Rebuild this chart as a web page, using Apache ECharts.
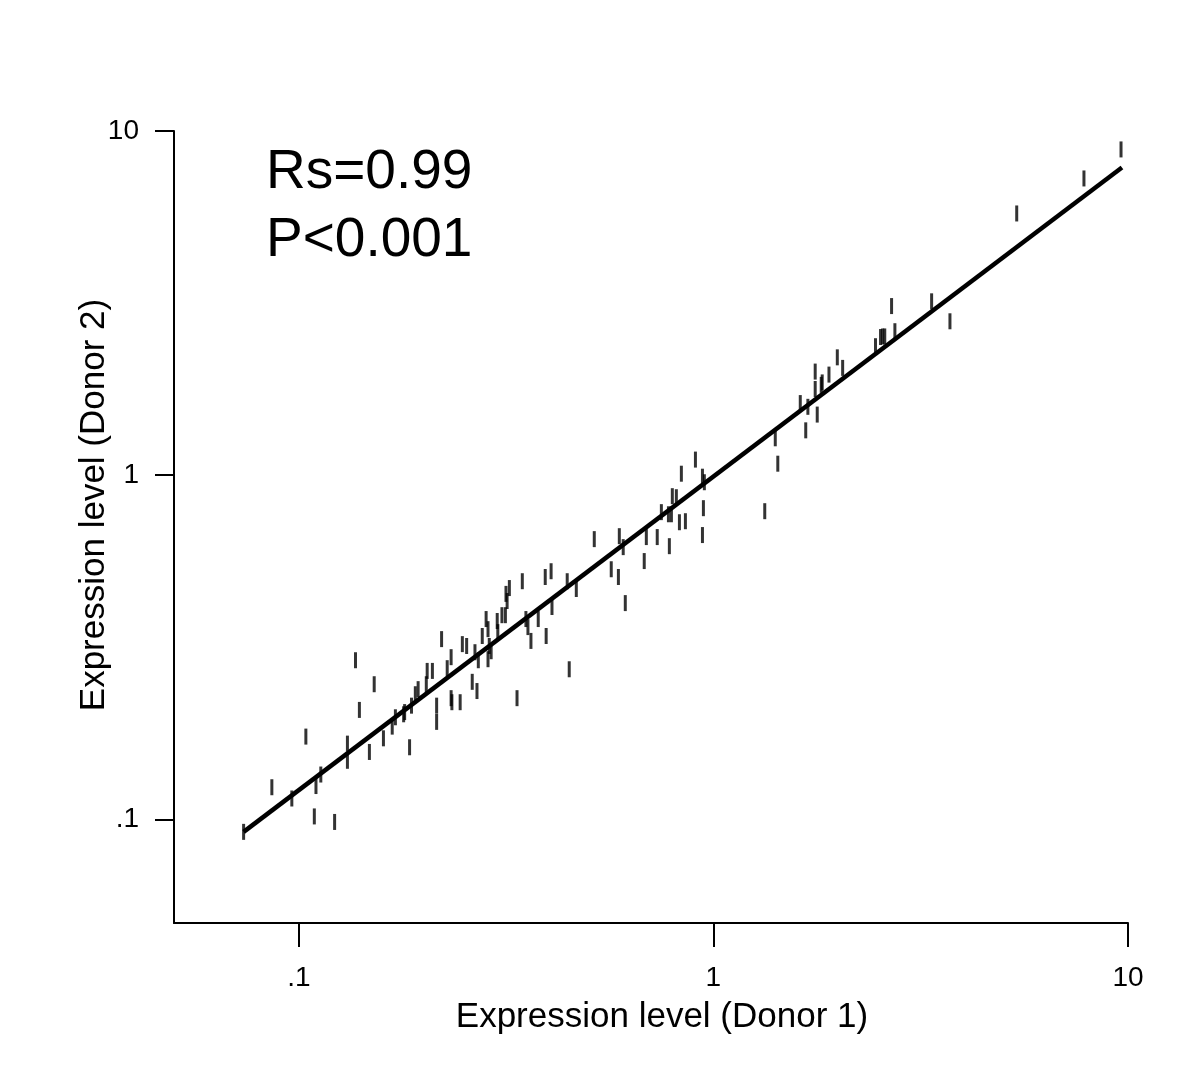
<!DOCTYPE html>
<html>
<head>
<meta charset="utf-8">
<script src="https://cdn.jsdelivr.net/npm/echarts@6/dist/echarts.min.js"></script>
<style>
  html, body { margin: 0; padding: 0; background: #fff; }
  #chart { width: 1200px; height: 1088px; }
</style>
</head>
<body>
<div id="chart"></div>
<script>
// expression level of each gene
const donor1 = [
  9.62, 7.83, 5.39, 3.72, 3.36, 2.69, 2.74, 2.59, 2.56, 2.53,
  2.46, 1.99, 2.05, 1.90, 1.83, 1.82, 1.76, 1.76, 1.62, 1.69,
  1.67, 1.78, 1.41, 1.43, 1.33, 0.905, 0.837, 0.941, 0.951, 0.796,
  0.814, 0.749, 0.779, 0.792, 0.828, 0.856, 0.946, 0.941, 0.516, 0.593,
  0.606, 0.689, 0.732, 0.783, 0.681, 0.567, 0.590, 0.613, 0.346, 0.393,
  0.406, 0.444, 0.467, 0.408, 0.378, 0.395, 0.363, 0.353, 0.357, 0.322,
  0.316, 0.318, 0.315, 0.309, 0.301, 0.283, 0.286, 0.277, 0.288, 0.291,
  0.302, 0.286, 0.266, 0.271, 0.221, 0.248, 0.254, 0.233, 0.228, 0.210,
  0.204, 0.203, 0.194, 0.191, 0.187, 0.180, 0.262, 0.269, 0.233, 0.234,
  0.245, 0.215, 0.336, 0.449, 0.137, 0.152, 0.140, 0.104, 0.171, 0.168,
  0.160, 0.148, 0.131, 0.131, 0.113, 0.110, 0.0962, 0.0861, 0.109, 0.122,
  0.0736, 0.185, 0.215, 0.179
]
const donor2 = [
  8.84, 7.28, 5.76, 2.80, 3.20, 3.10, 2.62, 2.53, 2.53, 2.52,
  2.37, 2.20, 2.05, 1.96, 1.86, 1.83, 2.00, 1.78, 1.62, 1.58,
  1.35, 1.50, 1.28, 1.08, 0.786, 1.11, 1.01, 0.99, 0.954, 0.869,
  0.863, 0.781, 0.770, 0.770, 0.730, 0.735, 0.802, 0.670, 0.652, 0.665,
  0.618, 0.661, 0.661, 0.622, 0.563, 0.533, 0.506, 0.425, 0.492, 0.506,
  0.526, 0.492, 0.467, 0.414, 0.382, 0.341, 0.330, 0.382, 0.362, 0.470,
  0.452, 0.431, 0.392, 0.392, 0.377, 0.382, 0.357, 0.341, 0.319, 0.308,
  0.350, 0.292, 0.306, 0.290, 0.334, 0.323, 0.319, 0.296, 0.275, 0.270,
  0.270, 0.247, 0.239, 0.231, 0.214, 0.205, 0.251, 0.236, 0.225, 0.219,
  0.219, 0.214, 0.225, 0.273, 0.290, 0.247, 0.208, 0.174, 0.198, 0.186,
  0.172, 0.157, 0.166, 0.148, 0.135, 0.125, 0.115, 0.124, 0.102, 0.0983,
  0.0920, 0.162, 0.192, 0.202
]
// fitted line, its two ends
const fitX = [0.0736, 9.67]
const fitY = [0.0920, 7.83]
// axis ticks
const tickValues = [0.1, 1, 10]
const tickLabels = ['.1', '1', '10']

const FONT = 'Liberation Sans, Arial, Helvetica, sans-serif'

const chart = echarts.init(document.getElementById('chart'))

function tickLabel (v) {
  for (let i = 0; i < tickValues.length; i++) {
    if (Math.abs(v - tickValues[i]) < tickValues[i] * 1e-6) return tickLabels[i]
  }
  return ''
}

const option = {
  animation: false,
  backgroundColor: '#fff',
  grid: {
    left: 174,
    right: 72,
    top: 131,
    bottom: 165,
  },
  xAxis: {
    type: 'log',
    logBase: 10,
    min: 0.05,
    max: 10,
    name: 'Expression level (Donor 1)',
    nameLocation: 'middle',
    nameGap: 77,
    nameTextStyle: { fontFamily: FONT, fontSize: 35, color: '#000', padding: [0, 0, 0, 22] },
    axisLine: { lineStyle: { color: '#000', width: 2 } },
    axisTick: { show: true, length: 24, lineStyle: { color: '#000', width: 2 }, customValues: tickValues },
    axisLabel: { customValues: tickValues, formatter: tickLabel, margin: 41, fontFamily: FONT, fontSize: 28, color: '#000' },
    splitLine: { show: false },
    minorTick: { show: false },
  },
  yAxis: {
    type: 'log',
    logBase: 10,
    min: 0.05,
    max: 10,
    name: 'Expression level (Donor 2)',
    nameLocation: 'middle',
    nameMoveOverlap: false,
    nameGap: 62,
    nameTextStyle: { fontFamily: FONT, fontSize: 35, color: '#000', padding: [0, 0, 0, 44] },
    axisLine: { lineStyle: { color: '#000', width: 2 } },
    axisTick: { show: true, length: 19, lineStyle: { color: '#000', width: 2 }, customValues: tickValues },
    axisLabel: { customValues: tickValues, formatter: tickLabel, margin: 35, fontFamily: FONT, fontSize: 28, color: '#000' },
    splitLine: { show: false },
    minorTick: { show: false },
  },
  graphic: [
    {
      type: 'text',
      left: 266,
      top: 139,
      style: {
        text: 'Rs=0.99\nP<0.001',
        font: '55px ' + FONT,
        lineHeight: 68,
        fill: '#000',
      },
    },
  ],
  series: [
    {
      name: 'genes',
      type: 'scatter',
      symbol: 'rect',
      symbolSize: [3, 16],
      itemStyle: { color: '#000' },
      data: donor1.map((x, i) => [x, donor2[i]]),
      z: 2,
    },
    {
      name: 'fit',
      type: 'line',
      symbol: 'none',
      lineStyle: { color: '#000', width: 4.5 },
      data: fitX.map((x, i) => [x, fitY[i]]),
      z: 3,
    },
  ],
}

chart.setOption(option)
</script>
</body>
</html>
